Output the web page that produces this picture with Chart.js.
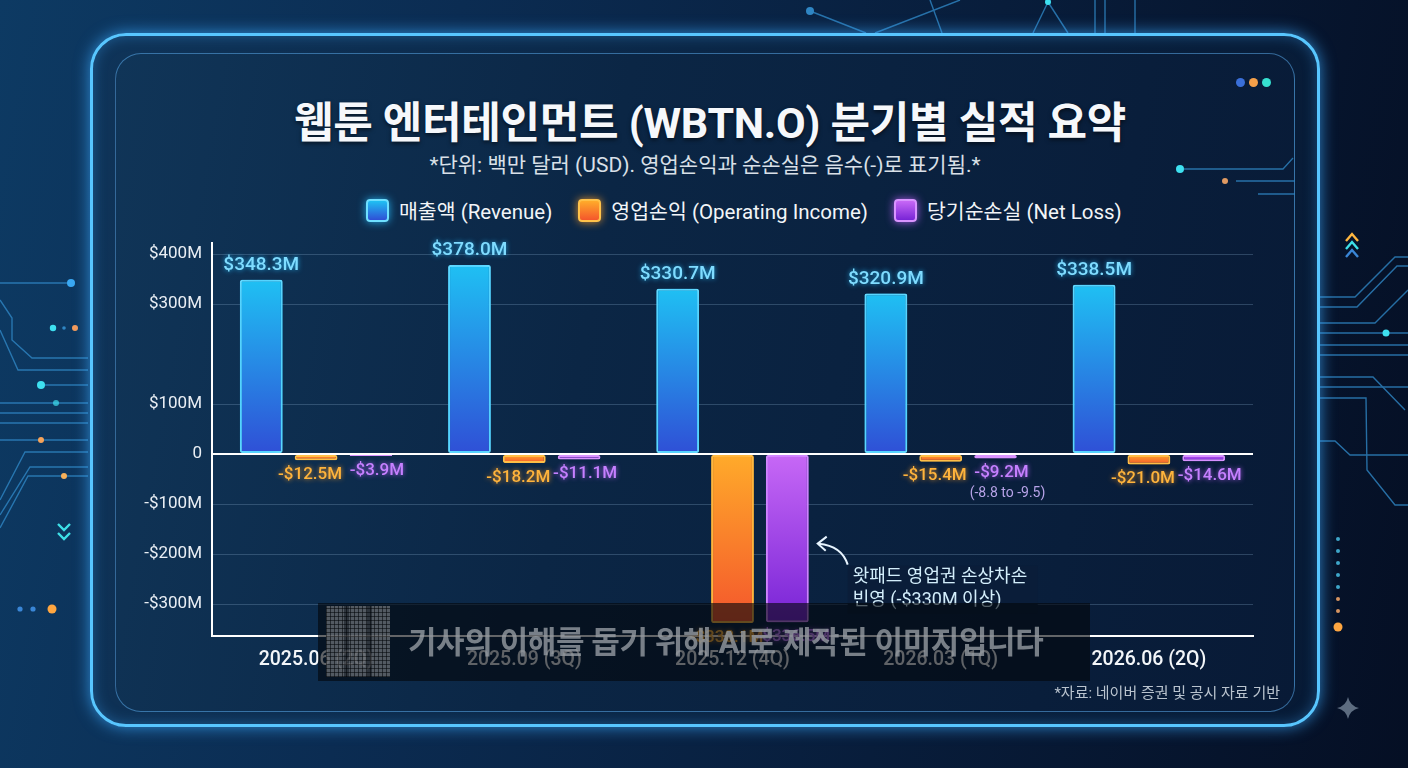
<!DOCTYPE html>
<html lang="ko">
<head>
<meta charset="utf-8">
<title>웹툰 엔터테인먼트 (WBTN.O) 분기별 실적 요약</title>
<script src="https://cdn.jsdelivr.net/npm/chart.js@4.4.1/dist/chart.umd.min.js"></script>
<style>
  html, body { margin: 0; padding: 0; width: 1408px; height: 768px; overflow: hidden; }
  body {
    position: relative;
    font-family: Roboto, "Noto Sans CJK KR", "Noto Sans", sans-serif;
    background: linear-gradient(100deg, #0d3a63 0%, #0b2c52 30%, #081d3b 65%, #050f24 100%);
  }
  #decor { position: absolute; left: 0; top: 0; }
  .frame {
    position: absolute; left: 90px; top: 33px; width: 1224px; height: 688px;
    border: 3px solid #58c6ff; border-radius: 36px;
    box-shadow: 0 0 16px rgba(60, 170, 255, 0.75), inset 0 0 14px rgba(60, 170, 255, 0.35);
    background: linear-gradient(100deg, #0f3459 0%, #0b2747 45%, #071a35 100%);
  }
  .panel {
    position: absolute; left: 115px; top: 53px; width: 1178px; height: 657px;
    border: 1.5px solid rgba(90, 170, 235, 0.55); border-radius: 26px;
    background: linear-gradient(100deg, #103558 0%, #0b2645 40%, #081a36 100%);
  }
  #chartBox { position: absolute; left: 0; top: 0; width: 1408px; height: 768px; }
  h1 {
    position: absolute; left: 0; width: 1420px; top: 88px; margin: 0;
    text-align: center; color: #f6f8fb; font-size: 43px; font-weight: 700; letter-spacing: -0.3px;
    text-shadow: 0 2px 4px rgba(0, 0, 0, 0.55);
  }
  .sub {
    position: absolute; left: 0; width: 1410px; top: 148px; text-align: center;
    color: #d9e0e8; font-size: 21px; letter-spacing: 0;
  }
  .legend { position: absolute; left: 366px; top: 195px; display: flex; align-items: center; }
  .legend .item { display: flex; align-items: center; margin-right: 26px; color: #f2f5f8; font-size: 20.5px; letter-spacing: 0; }
  .legend .box { width: 19px; height: 19px; border-radius: 4px; margin-right: 10px; border: 2px solid; }
  .source { position: absolute; right: 128px; top: 681px; color: #b9c3ce; font-size: 15px; }
  .dots { position: absolute; left: 1236px; top: 78px; display: flex; }
  .dots span { width: 9px; height: 9px; border-radius: 50%; margin-right: 4px; }
  .wm {
    position: absolute; left: 318px; top: 603px; width: 772px; height: 78px;
    background: rgba(3, 6, 12, 0.62); z-index: 5;
  }
  .wm .icon {
    position: absolute; left: 8px; top: 3px; width: 64px; height: 71px;
    background-image:
      repeating-linear-gradient(90deg, rgba(0,0,0,0.55) 0 1px, transparent 1px 4px),
      repeating-linear-gradient(0deg, rgba(0,0,0,0.55) 0 1px, transparent 1px 4px),
      linear-gradient(90deg, #6d7278 0 28%, #3c4046 28% 36%, #6d7278 36% 64%, #3c4046 64% 72%, #6d7278 72%);
    opacity: 0.75;
  }
  .wm .txt {
    position: absolute; left: 90px; top: 14px; color: rgba(150, 156, 163, 0.8);
    font-size: 31px; font-weight: 700; letter-spacing: -0.4px; white-space: nowrap;
  }
</style>
</head>
<body>
<svg id="decor" width="1408" height="768" xmlns="http://www.w3.org/2000/svg">
  <g stroke="#2f86c4" stroke-width="1.4" fill="none" opacity="0.8">
    <path d="M0,283 L71,283"/>
    <path d="M0,300 L12,318 L12,340 L32,358 L88,358"/>
    <path d="M0,330 L18,370 L88,370"/>
    <path d="M41,385 L88,385"/>
    <path d="M0,403 L88,403"/>
    <path d="M0,413 L88,413"/>
    <path d="M0,423 L88,423"/>
    <path d="M0,440 L88,440"/>
    <path d="M0,500 L25,452 L88,452"/>
    <path d="M0,515 L30,467 L88,467"/>
    <path d="M0,528 L28,476 L88,476"/>
    <path d="M97,60 L97,460 L105,470 L105,700"/>
    <path d="M1320,297 L1355,297 L1395,257 L1408,257"/>
    <path d="M1320,307 L1357,307 L1397,266 L1408,266"/>
    <path d="M1320,323 L1375,323 L1408,290"/>
    <path d="M1320,333 L1408,333"/>
    <path d="M1320,345 L1408,345"/>
    <path d="M1320,355 L1408,355"/>
    <path d="M1320,377 L1373,377 L1405,410"/>
    <path d="M1320,387 L1408,387"/>
    <path d="M1320,398 L1366,398 L1367,470 L1395,505 L1408,505"/>
    <path d="M1320,441 L1335,441 L1350,455 L1408,455"/>
    <path d="M1308,60 L1308,560 L1300,572 L1300,700"/>
    <path d="M810,11 L866,33"/>
    <path d="M875,33 L960,0"/>
    <path d="M930,0 L942,33"/>
    <path d="M1048,2 L1033,33"/>
    <path d="M1048,2 L1068,33"/>
    <path d="M1095,0 L1095,33 M1105,0 L1105,33 M1135,0 L1135,33"/>
    <path d="M1081,42 L1290,42"/>
  </g>
  <g>
    <circle cx="71" cy="283" r="4" fill="#3aa8f2"/>
    <circle cx="53" cy="328" r="3.2" fill="#3ee0f0"/>
    <circle cx="64" cy="328" r="1.8" fill="#2f86c4"/>
    <circle cx="75" cy="328" r="3" fill="#f59a5a"/>
    <circle cx="41" cy="385" r="4" fill="#3ee0f0"/>
    <circle cx="56" cy="403" r="3" fill="#3ee0f0" opacity="0.7"/>
    <circle cx="41" cy="440" r="3" fill="#f6a35a"/>
    <circle cx="64" cy="476" r="3" fill="#f6b05a"/>
    <path d="M58,524 L64,530 L70,524 M58,533 L64,539 L70,533" stroke="#3ee0e8" stroke-width="2.4" fill="none"/>
    <circle cx="20" cy="609" r="2.6" fill="#3a86d6"/>
    <circle cx="33" cy="609" r="2.6" fill="#3a86d6"/>
    <circle cx="52" cy="609" r="4.5" fill="#ffa640"/>
    <path d="M1346,241 L1352,234 L1358,241" stroke="#ffb640" stroke-width="2.4" fill="none"/>
    <path d="M1346,249 L1352,242 L1358,249" stroke="#3ee0e8" stroke-width="2.4" fill="none"/>
    <path d="M1346,257 L1352,250 L1358,257" stroke="#3a86d6" stroke-width="2.4" fill="none"/>
    <circle cx="1386" cy="333" r="3.5" fill="#3ee0f0"/>
    <circle cx="1338" cy="539" r="2" fill="#3fa7c9"/>
    <circle cx="1338" cy="551" r="2" fill="#3fa7c9"/>
    <circle cx="1338" cy="563" r="2" fill="#3fa7c9"/>
    <circle cx="1338" cy="575" r="2" fill="#3fa7c9"/>
    <circle cx="1338" cy="587" r="2" fill="#3fa7c9"/>
    <circle cx="1338" cy="599" r="2" fill="#d99560"/>
    <circle cx="1338" cy="611" r="2" fill="#d99560"/>
    <circle cx="1338" cy="627" r="4.5" fill="#ffa640"/>
    <path d="M1348,697 Q1350,706 1359,708 Q1350,710 1348,719 Q1346,710 1337,708 Q1346,706 1348,697 Z" fill="#5d6c80"/>
    <circle cx="810" cy="11" r="4" fill="#2f86c4"/>
    <circle cx="1048" cy="2" r="3" fill="#3ee0f0"/>
  </g>
</svg>
<div class="frame"></div>
<div class="panel"></div>
<svg width="1408" height="768" style="position:absolute;left:0;top:0" xmlns="http://www.w3.org/2000/svg">
  <g stroke="#2f86c4" stroke-width="1.3" fill="none" opacity="0.8">
    <path d="M1184,169 L1283,169 L1293,158"/>
    <path d="M1236,181 L1295,181"/>
    <path d="M1258,194 L1295,194"/>
  </g>
  <circle cx="1180" cy="169" r="4" fill="#3ee0f0"/>
  <circle cx="1225" cy="181" r="3" fill="#e09a62"/>
</svg>
<div class="dots"><span style="background:#3a6fd8"></span><span style="background:#f5a04a"></span><span style="background:#36e0d0"></span></div>

<h1>웹툰 엔터테인먼트 (WBTN.O) 분기별 실적 요약</h1>
<div class="sub">*단위: 백만 달러 (USD). 영업손익과 순손실은 음수(-)로 표기됨.*</div>
<div class="legend" id="legend"></div>

<div id="chartBox"><canvas id="perfChart" width="1408" height="768"></canvas></div>

<div class="source">*자료: 네이버 증권 및 공시 자료 기반</div>
<div class="wm"><div class="icon"></div><div class="txt">기사의 이해를 돕기 위해 AI로 제작된 이미지입니다</div></div>

<script>
// quarterly figures, USD millions
const quarters = ["2025.06 (2Q)", "2025.09 (3Q)", "2025.12 (4Q)", "2026.03 (1Q)", "2026.06 (2Q)"];
const revenue = [348.3, 378.0, 330.7, 320.9, 338.5];
const operatingIncome = [-12.5, -18.2, -338.1, -15.4, -21.0];
const netLoss = [-3.9, -11.1, -336.5, -9.2, -14.6];
const netLossNotes = ["", "", "", "(-8.8 to -9.5)", ""];
const seriesNames = ["매출액 (Revenue)", "영업손익 (Operating Income)", "당기순손실 (Net Loss)"];
const yTicks = [400, 300, 100, 0, -100, -200, -300];
const noteLines = ["왓패드 영업권 손상차손", "빈영 (-$330M 이상)"];

const FONT = 'Roboto, "Noto Sans CJK KR", sans-serif';
const fills = [["#1fc0f3", "#2f4fd6"], ["#ffab2a", "#f4562c"], ["#c768f6", "#7824d6"]];
const borders = ["#6fe0ff", "#ffc24a", "#d994ff"];
const glows = ["rgba(40,190,255,0.85)", "rgba(255,160,40,0.85)", "rgba(190,100,255,0.85)"];
const labelColors = ["#7fdcff", "#ffb43c", "#c680ff"];
const labelShift = [0, -6, 6];

function money(v) {
  const s = "$" + Math.abs(v).toFixed(1) + "M";
  return v < 0 ? "-" + s : s;
}
function tickText(v) {
  if (v === 0) return "0";
  return (v < 0 ? "-$" : "$") + Math.abs(v) + "M";
}

// per-bar vertical gradient from the zero line out to the value
function barFill(i) {
  return (ctx) => {
    const chart = ctx.chart;
    if (!chart.chartArea || ctx.raw === undefined) return fills[i][0];
    const y = chart.scales.y;
    const zero = y.getPixelForValue(0);
    const end = y.getPixelForValue(ctx.raw);
    const g = chart.ctx.createLinearGradient(0, Math.min(zero, end), 0, Math.max(zero, end) + 0.01);
    g.addColorStop(0, fills[i][0]);
    g.addColorStop(1, fills[i][1]);
    return g;
  };
}

// legend
const legendEl = document.getElementById("legend");
seriesNames.forEach((name, i) => {
  const it = document.createElement("div");
  it.className = "item";
  it.innerHTML = `<span class="box" style="background:linear-gradient(${fills[i][0]},${fills[i][1]});border-color:${borders[i]};box-shadow:0 0 8px ${glows[i]}"></span>${name}`;
  legendEl.appendChild(it);
});

const glowPlugin = {
  id: "glow",
  beforeDatasetDraw(chart, args) {
    const c = chart.ctx;
    c.save();
    c.shadowColor = glows[args.index];
    c.shadowBlur = 18;
  },
  afterDatasetDraw(chart) {
    chart.ctx.restore();
  },
};

const valueLabels = {
  id: "valueLabels",
  afterDatasetsDraw(chart) {
    const c = chart.ctx;
    chart.data.datasets.forEach((ds, i) => {
      chart.getDatasetMeta(i).data.forEach((bar, j) => {
        const v = ds.data[j];
        c.save();
        c.textAlign = "center";
        c.fillStyle = labelColors[i];
        c.shadowColor = glows[i];
        c.shadowBlur = 5;
        if (v >= 0) {
          c.font = `500 19px ${FONT}`;
          c.textBaseline = "bottom";
          c.fillText(money(v), bar.x, bar.y - 5);
        } else {
          c.font = `500 17px ${FONT}`;
          c.textBaseline = "top";
          c.fillText(money(v), bar.x + labelShift[i], bar.y + 6);
          if (i === 2 && netLossNotes[j]) {
            c.shadowBlur = 0;
            c.fillStyle = "#b7a3e8";
            c.font = `14px ${FONT}`;
            c.fillText(netLossNotes[j], bar.x + 12, bar.y + 28);
          }
        }
        c.restore();
      });
    });
  },
};

// callout pointing at the 4Q net loss bar
const impairmentNote = {
  id: "impairmentNote",
  afterDatasetsDraw(chart) {
    const bar = chart.getDatasetMeta(2).data[2];
    if (!bar) return;
    const c = chart.ctx;
    const tipX = bar.x + bar.width / 2 + 9;
    const tipY = bar.base + (bar.y - bar.base) * 0.53;
    c.save();
    c.fillStyle = "#0a1d39";
    c.fillRect(tipX + 30, tipY + 22, 190, 48);
    c.strokeStyle = "#e8f5ff";
    c.lineWidth = 2;
    c.beginPath();
    c.moveTo(tipX + 30, tipY + 21);
    c.quadraticCurveTo(tipX + 24, tipY + 2, tipX + 1, tipY);
    c.stroke();
    c.beginPath();
    c.moveTo(tipX + 9, tipY - 7);
    c.lineTo(tipX, tipY);
    c.lineTo(tipX + 8, tipY + 7);
    c.stroke();
    c.fillStyle = "#d3eefb";
    c.font = `18px ${FONT}`;
    c.textAlign = "left";
    c.textBaseline = "middle";
    c.fillText(noteLines[0], tipX + 35, tipY + 34);
    c.fillText(noteLines[1], tipX + 35, tipY + 57);
    c.restore();
  },
};

const datasets = [revenue, operatingIncome, netLoss].map((data, i) => ({
  label: seriesNames[i],
  data,
  backgroundColor: barFill(i),
  borderColor: borders[i],
  borderWidth: 2,
  borderRadius: 2,
  borderSkipped: false,
  categoryPercentage: 0.79,
  barPercentage: 0.78,
}));

new Chart(document.getElementById("perfChart"), {
  type: "bar",
  data: { labels: quarters, datasets },
  options: {
    responsive: false,
    animation: false,
    layout: { padding: { left: 120, right: 155, top: 243, bottom: 82 } },
    plugins: { legend: { display: false }, tooltip: { enabled: false } },
    scales: {
      x: {
        afterFit: (s) => { s.height = 50; },
        grid: { color: "transparent", drawTicks: false },
        border: { color: "#ffffff", width: 2 },
        ticks: { color: "#f3f6f9", padding: 12, font: { family: FONT, size: 19.5, weight: "500" } },
      },
      y: {
        min: -364,
        max: 422,
        afterFit: (s) => { s.width = 92; },
        afterBuildTicks: (s) => { s.ticks = yTicks.map((v) => ({ value: v })); },
        grid: {
          drawTicks: false,
          color: (ctx) => (ctx.tick && ctx.tick.value === 0 ? "#ffffff" : "rgba(140,175,210,0.28)"),
          lineWidth: (ctx) => (ctx.tick && ctx.tick.value === 0 ? 2 : 1),
        },
        border: { color: "#ffffff", width: 2 },
        ticks: {
          color: "#e9eef4",
          padding: 10,
          font: { family: FONT, size: 17 },
          callback: (v) => tickText(v),
        },
      },
    },
  },
  plugins: [glowPlugin, valueLabels, impairmentNote],
});
</script>
</body>
</html>
